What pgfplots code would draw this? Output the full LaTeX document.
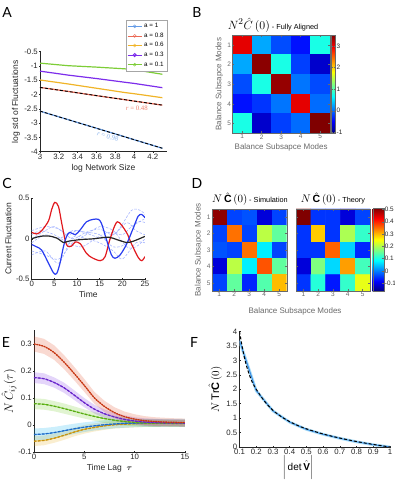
\documentclass[border=0pt]{standalone}
\usepackage{fontspec}
\setmainfont{Liberation Sans}
\newfontfamily\serif{Liberation Serif}
\newfontfamily\panelfont{Lato}
\usepackage{amsmath}
\usepackage{pgfplots}
\usepackage{pgfplotstable}
\pgfplotsset{compat=1.18}

\definecolor{axgray}{RGB}{38,38,38}
\definecolor{hgray}{RGB}{105,105,105}
% panel A
\definecolor{aA}{RGB}{100,155,230}
\definecolor{aB}{RGB}{235,105,85}
\definecolor{aC}{RGB}{240,180,40}
\definecolor{aD}{RGB}{125,45,235}
\definecolor{aE}{RGB}{125,205,55}
% panel C
\definecolor{cred}{RGB}{225,25,30}
\definecolor{cblue}{RGB}{40,60,240}
\definecolor{cdash}{RGB}{165,180,255}
% panel E
\definecolor{ered}{RGB}{225,65,25}
\definecolor{epur}{RGB}{120,45,230}
\definecolor{egrn}{RGB}{105,200,25}
\definecolor{eblu}{RGB}{35,125,230}
\definecolor{eorg}{RGB}{230,170,20}
% panel F
\definecolor{fblu}{RGB}{55,140,230}
\definecolor{fband}{RGB}{170,222,248}

\pgfplotsset{
  base/.style={scale only axis,
    axis line style={draw=axgray, line width=0.4pt},
    tick style={draw=axgray, line width=0.4pt},
    major tick length=2pt,
    tick align=inside,
    tick label style={font=\fontsize{7.8}{8}\selectfont, text=axgray, inner sep=1pt},
    /pgf/number format/assume math mode=true,
    label style={font=\fontsize{8.5}{9}\selectfont, text=axgray},
  },
  open/.style={base, axis lines=left, axis line style={-}},
  heat/.style={base, enlargelimits=false, xmin=0.5, xmax=5.5, ymin=0.5, ymax=5.5,
    y dir=reverse, xtick={1,...,5}, ytick={1,...,5}, colormap/jet, axis on top,
    axis line style={draw=hgray}, tick style={draw=hgray},
    tick label style={font=\fontsize{6.5}{7}\selectfont, text=hgray},
    label style={font=\fontsize{8}{9}\selectfont, text=hgray},
    colorbar shift/.style={},
  },
  cbar/.style={scale only axis, axis line style={draw=hgray}, tick style={draw=hgray},
    major tick length=1.5pt,
    tick label style={font=\fontsize{6.4}{7}\selectfont, text=axgray, inner sep=1pt},
    /pgf/number format/assume math mode=true},
  band/.style={draw=none, fill opacity=0.2},
}

% panel B, fully aligned
\pgfplotstableread{
x y c
1 1 3.05
2 1 0.27
3 1 -0.14
4 1 -0.41
5 1 0.77
1 2 0.27
2 2 3.45
3 2 0.77
4 2 -0.20
5 2 -0.71
1 3 -0.14
2 3 0.77
3 3 3.40
4 3 0.04
5 3 -0.15
1 4 -0.41
2 4 -0.25
3 4 0.04
4 4 3.05
5 4 0.00
1 5 0.77
2 5 -0.71
3 5 -0.20
4 5 0.00
5 5 3.50
}\matB

% panel D, simulation
\pgfplotstableread{
x y c
1 1 0.50
2 1 -0.04
3 1 -0.03
4 1 -0.11
5 1 -0.04
1 2 -0.04
2 2 0.35
3 2 -0.04
4 2 0.21
5 2 0.15
1 3 -0.03
2 3 -0.04
3 3 0.35
4 3 0.075
5 3 -0.04
1 4 -0.11
2 4 0.21
3 4 0.075
4 4 0.37
5 4 0.15
1 5 -0.04
2 5 0.15
3 5 -0.06
4 5 0.14
5 5 0.30
}\matDs

% panel D, theory
\pgfplotstableread{
x y c
1 1 0.51
2 1 -0.05
3 1 -0.05
4 1 -0.11
5 1 -0.04
1 2 -0.05
2 2 0.29
3 2 -0.05
4 2 0.20
5 2 0.12
1 3 -0.05
2 3 -0.05
3 3 0.36
4 3 0.055
5 3 -0.06
1 4 -0.11
2 4 0.17
3 4 0.06
4 4 0.32
5 4 0.13
1 5 -0.05
2 5 0.11
3 5 -0.07
4 5 0.12
5 5 0.24
}\matDt

% panel E: mean curves
\pgfplotstableread{
t r p g b o
0 0.300 0.175 0.078 -0.036 -0.061
1 0.291 0.171 0.076 -0.034 -0.058
2 0.268 0.157 0.069 -0.029 -0.050
3 0.232 0.137 0.060 -0.022 -0.039
4 0.190 0.110 0.050 -0.015 -0.027
5 0.146 0.082 0.040 -0.009 -0.017
6 0.100 0.058 0.031 -0.004 -0.010
7 0.068 0.041 0.023 0.000 -0.004
8 0.045 0.029 0.017 0.003 0.000
9 0.030 0.020 0.012 0.005 0.002
10 0.021 0.014 0.009 0.006 0.004
11 0.015 0.010 0.007 0.007 0.005
12 0.012 0.008 0.006 0.007 0.005
13 0.010 0.007 0.006 0.007 0.006
14 0.009 0.007 0.005 0.007 0.006
15 0.008 0.006 0.005 0.007 0.006
}\tabE

\begin{document}
\begin{tikzpicture}[x=1pt,y=1pt]
\useasboundingbox (0,0) rectangle (395,482);

% ---------------- A
\begin{axis}[open, at={(40pt,330.3pt)}, anchor=south west, width=127pt, height=100pt,
  xmin=3, xmax=4.35, ymin=-4, ymax=-0.5,
  xtick={3,3.2,3.4,3.6,3.8,4,4.2}, ytick={-4,-3.5,-3,-2.5,-2,-1.5,-1,-0.5},
  xlabel={log Network Size}, ylabel={log std of Fluctuations},
  legend style={at={(1,1.317)}, anchor=north east, font=\fontsize{6.3}{6.5}\selectfont,
    draw=gray!70, inner sep=1.2pt, row sep=-0.3pt, legend cell align=left},
  legend image code/.code={\draw[mark repeat=2,mark phase=2,#1] plot coordinates {(0pt,0pt)(7pt,0pt)(14pt,0pt)};},
  clip=false]
\addlegendimage{aA, mark=o, mark size=1.5pt}\addlegendentry{a = 1\hspace{7pt}}
\addlegendimage{aB, mark=o, mark size=1.5pt}\addlegendentry{a = 0.8}
\addlegendimage{aC, mark=o, mark size=1.5pt}\addlegendentry{a = 0.6}
\addlegendimage{aD, mark=o, mark size=1.5pt, line width=1pt}\addlegendentry{a = 0.3}
\addlegendimage{aE, mark=o, mark size=1.5pt}\addlegendentry{a = 0.1}
\addplot[aE, line width=1.2pt, forget plot] coordinates {(3,-0.90)(3.301,-0.99)(3.602,-1.04)(3.903,-1.10)(4,-1.13)(4.301,-1.29)};
\addplot[aD, line width=1.2pt, forget plot] coordinates {(3,-1.18)(3.301,-1.32)(3.602,-1.44)(3.903,-1.57)(4,-1.61)(4.301,-1.76)};
\addplot[aC, line width=1.2pt, forget plot] coordinates {(3,-1.49)(3.301,-1.63)(3.602,-1.78)(3.903,-1.93)(4,-1.97)(4.301,-2.11)};
\addplot[aB, line width=1.2pt, forget plot] coordinates {(3,-1.75)(3.301,-1.89)(3.602,-2.04)(3.903,-2.18)(4,-2.23)(4.301,-2.37)};
\addplot[black, line width=0.9pt, dash pattern=on 3pt off 2pt, forget plot] coordinates {(3,-1.75)(4.301,-2.37)};
\addplot[aA, line width=1.2pt, forget plot] coordinates {(3,-2.58)(3.301,-2.88)(3.602,-3.18)(3.903,-3.48)(4,-3.58)(4.301,-3.88)};
\addplot[black, line width=0.9pt, dash pattern=on 3pt off 2pt, forget plot] coordinates {(3,-2.58)(4.301,-3.88)};
\node[text=aB!85, font=\serif\fontsize{6.8}{7}\selectfont] at (axis cs:4.03,-2.48) {\textit{r} = 0.48};
\node[text=aA!75, rotate=-17, font=\serif\fontsize{6.8}{7}\selectfont] at (axis cs:3.72,-3.47) {\textit{r} = 0.98};
\end{axis}

% ---------------- B
\begin{axis}[heat, at={(232.3pt,348.7pt)}, anchor=south west, width=97.7pt, height=98.3pt,
  xlabel={Balance Subsapce Modes}, ylabel={Balance Subsapce Modes},
  point meta min=-1.05, point meta max=3.5,
  colorbar, colorbar style={cbar, at={(parent axis.north east)}, anchor=north west,
    xshift=1.5pt, width=4pt, height=98.3pt, ytick={-1,0,1,2,3}}]
\addplot[matrix plot*, mesh/cols=5, point meta=explicit] table[meta=c] {\matB};
\end{axis}
\node[text=black, font=\fontsize{12.5}{13}\selectfont] at (273,457) {$N^2\hat{C}\,(0)$\,{\fontsize{7.3}{8}\selectfont - Fully Aligned}};

% ---------------- C
\begin{axis}[open, at={(31.7pt,202.7pt)}, anchor=south west, width=113.3pt, height=81pt,
  xmin=0, xmax=25, ymin=-0.5, ymax=0.5, xtick={0,5,10,15,20,25}, ytick={-0.5,0,0.5},
  xlabel={Time}, ylabel={Current Fluctuation}]
\addplot[cdash, line width=0.6pt, dash pattern=on 2.5pt off 1.5pt, smooth] coordinates {(0,0.00)(3,0.10)(5,0.15)(8,0.05)(10,0.10)(13,0.05)(16,0.00)(19,0.10)(22,0.35)(24,0.35)(25,0.30)};
\addplot[cdash, line width=0.6pt, dash pattern=on 2.5pt off 1.5pt, smooth] coordinates {(0,-0.05)(3,0.05)(6,0.00)(9,0.10)(12,0.08)(15,0.05)(18,-0.10)(21,-0.05)(23,0.20)(25,0.20)};
\addplot[cdash, line width=0.6pt, dash pattern=on 2.5pt off 1.5pt, smooth] coordinates {(0,-0.15)(3,-0.20)(6,-0.25)(9,-0.05)(12,0.05)(15,0.15)(18,0.10)(21,-0.10)(23,-0.10)(25,0.00)};
\addplot[cdash, line width=0.6pt, dash pattern=on 2.5pt off 1.5pt, smooth] coordinates {(0,0.05)(2,0.10)(5,0.05)(8,-0.05)(11,-0.10)(14,0.00)(17,0.08)(20,0.05)(22,0.15)(25,0.25)};
\addplot[cdash, line width=0.6pt, dash pattern=on 2.5pt off 1.5pt, smooth] coordinates {(0,-0.20)(3,-0.15)(6,-0.30)(9,0.02)(12,0.00)(15,-0.05)(18,-0.15)(20,-0.25)(23,-0.05)(25,-0.05)};
\addplot[cdash, line width=0.6pt, dash pattern=on 2.5pt off 1.5pt, smooth] coordinates {(0,0.10)(3,0.15)(6,0.12)(9,0.00)(12,0.08)(15,0.12)(18,0.05)(21,0.20)(23,0.10)(25,0.05)};
\addplot[cred, line width=1.2pt, smooth] coordinates {(0,0.08)(1.1,0.06)(2.2,0.10)(3.7,0.22)(4.4,0.36)(5.1,0.45)(5.9,0.40)(6.6,0.20)(7.35,-0.01)(7.9,-0.09)(8.8,-0.09)(9.6,-0.04)(10.7,-0.06)(12.1,-0.18)(13.2,-0.23)(15.1,-0.27)(16.2,-0.22)(17.3,0.00)(18.9,0.21)(20.9,0.08)(22,-0.06)(23.5,-0.23)(24.3,-0.27)(25,-0.22)};
\addplot[cblue, line width=1.2pt, smooth] coordinates {(0,-0.07)(1.1,-0.10)(2.2,-0.14)(3.7,-0.30)(4.8,-0.42)(5.5,-0.43)(6.25,-0.30)(7,-0.10)(7.7,0.03)(8.45,0.08)(9.6,0.05)(10.7,0.11)(12.1,0.21)(13.6,0.24)(14.7,0.24)(15.4,0.19)(16.5,-0.01)(17.6,-0.20)(18.4,-0.24)(19.5,-0.20)(20.9,-0.07)(22.4,0.13)(23.5,0.28)(24.3,0.30)(25,0.26)};
\addplot[black!85, line width=1.2pt, smooth] coordinates {(0,0)(1.8,0.03)(3.7,0.035)(5.5,0.01)(7,-0.045)(8.1,-0.03)(10.7,-0.01)(13.6,0)(16.9,0.02)(18.8,-0.01)(20.9,-0.045)(22.4,-0.03)(25,0.03)};
\end{axis}

% ---------------- D
\begin{axis}[heat, at={(211.7pt,191pt)}, anchor=south west, width=75pt, height=82pt,
  ylabel={Balance Subsapce Modes}, point meta min=-0.17, point meta max=0.51]
\addplot[matrix plot*, mesh/cols=5, point meta=explicit] table[meta=c] {\matDs};
\end{axis}
\begin{axis}[heat, at={(296pt,191pt)}, anchor=south west, width=74pt, height=82pt,
  yticklabels={}, point meta min=-0.17, point meta max=0.51,
  colorbar, colorbar style={cbar, at={(parent axis.north east)}, anchor=north west,
    xshift=2.7pt, yshift=0.7pt, width=11pt, height=83.4pt,
    ytick={-0.1,0,0.1,0.2,0.3,0.4,0.5}}]
\addplot[matrix plot*, mesh/cols=5, point meta=explicit] table[meta=c] {\matDt};
\end{axis}
\node[text=black, font=\fontsize{10.5}{11}\selectfont] at (250,283) {$N\,\hat{\mathbf{C}}\,(0)$\,{\fontsize{7.3}{8}\selectfont - Simulation}};
\node[text=black, font=\fontsize{10.5}{11}\selectfont] at (333,283) {$N\,\hat{\mathbf{C}}\,(0)$\,{\fontsize{7.3}{8}\selectfont - Theory}};
\node[text=hgray, font=\fontsize{8}{9}\selectfont] at (295,171) {Balance Subsapce Modes};

% ---------------- E
\begin{axis}[open, at={(34pt,30.3pt)}, anchor=south west, width=151pt, height=121.2pt,
  xmin=0, xmax=15, ymin=-0.1, ymax=0.35, xtick={0,5,10,15}, ytick={-0.1,0,0.1,0.2,0.3},
  xlabel={Time Lag \ $\boldsymbol{\tau}$},
  ylabel={$N\,\hat{C}_{ij}(\tau)$}, ylabel style={font=\fontsize{11.5}{12}\selectfont, text=black, yshift=-2.5pt}]
% bands: upper edge forward, lower edge back
\addplot[band, fill=eorg] coordinates {(0,-0.043)(1,-0.040)(2,-0.033)(3,-0.022)(4,-0.011)(5,-0.001)(6,0.005)(7,0.011)(8,0.014)(9,0.016)(10,0.018)(11,0.018)(12,0.018)(13,0.019)(14,0.019)(15,0.019)
  (15,-0.007)(14,-0.007)(13,-0.007)(12,-0.008)(11,-0.008)(10,-0.010)(9,-0.012)(8,-0.014)(7,-0.019)(6,-0.025)(5,-0.033)(4,-0.043)(3,-0.056)(2,-0.067)(1,-0.076)(0,-0.079)} --cycle;
\addplot[band, fill=cyan] coordinates {(0,-0.014)(1,-0.012)(2,-0.008)(3,-0.002)(4,0.004)(5,0.009)(6,0.013)(7,0.017)(8,0.019)(9,0.021)(10,0.021)(11,0.022)(12,0.022)(13,0.022)(14,0.022)(15,0.022)
  (15,-0.008)(14,-0.008)(13,-0.008)(12,-0.008)(11,-0.008)(10,-0.009)(9,-0.011)(8,-0.013)(7,-0.017)(6,-0.021)(5,-0.027)(4,-0.034)(3,-0.042)(2,-0.050)(1,-0.056)(0,-0.058)} --cycle;
\addplot[band, fill=egrn] coordinates {(0,0.098)(1,0.096)(2,0.088)(3,0.079)(4,0.068)(5,0.057)(6,0.047)(7,0.039)(8,0.032)(9,0.027)(10,0.023)(11,0.021)(12,0.020)(13,0.019)(14,0.018)(15,0.018)
  (15,-0.008)(14,-0.008)(13,-0.007)(12,-0.008)(11,-0.007)(10,-0.005)(9,-0.003)(8,0.002)(7,0.007)(6,0.015)(5,0.023)(4,0.032)(3,0.041)(2,0.050)(1,0.056)(0,0.058)} --cycle;
\addplot[band, fill=epur] coordinates {(0,0.195)(1,0.191)(2,0.176)(3,0.156)(4,0.128)(5,0.099)(6,0.074)(7,0.057)(8,0.044)(9,0.035)(10,0.028)(11,0.024)(12,0.022)(13,0.020)(14,0.020)(15,0.019)
  (15,-0.007)(14,-0.006)(13,-0.006)(12,-0.006)(11,-0.004)(10,0.000)(9,0.005)(8,0.014)(7,0.025)(6,0.042)(5,0.065)(4,0.092)(3,0.118)(2,0.138)(1,0.151)(0,0.155)} --cycle;
\addplot[band, fill=ered] coordinates {(0,0.328)(1,0.319)(2,0.295)(3,0.258)(4,0.215)(5,0.170)(6,0.122)(7,0.089)(8,0.065)(9,0.049)(10,0.039)(11,0.032)(12,0.028)(13,0.026)(14,0.024)(15,0.023)
  (15,-0.007)(14,-0.006)(13,-0.006)(12,-0.004)(11,-0.002)(10,0.003)(9,0.011)(8,0.025)(7,0.047)(6,0.078)(5,0.122)(4,0.165)(3,0.206)(2,0.241)(1,0.263)(0,0.272)} --cycle;
\addplot[eorg, line width=0.7pt, smooth] table[x=t, y=o] {\tabE};
\addplot[eorg!85!black, line width=1.3pt, smooth, dash pattern=on 2.5pt off 1.5pt] table[x=t, y=o] {\tabE};
\addplot[eblu, line width=0.7pt, smooth] table[x=t, y=b] {\tabE};
\addplot[eblu!85!black, line width=1.3pt, smooth, dash pattern=on 2.5pt off 1.5pt] table[x=t, y=b] {\tabE};
\addplot[egrn, line width=0.7pt, smooth] table[x=t, y=g] {\tabE};
\addplot[egrn!85!black, line width=1.3pt, smooth, dash pattern=on 2.5pt off 1.5pt] table[x=t, y=g] {\tabE};
\addplot[epur, line width=0.7pt, smooth] table[x=t, y=p] {\tabE};
\addplot[epur!85!black, line width=1.3pt, smooth, dash pattern=on 2.5pt off 1.5pt] table[x=t, y=p] {\tabE};
\addplot[ered, line width=0.7pt, smooth] table[x=t, y=r] {\tabE};
\addplot[ered!85!black, line width=1.3pt, smooth, dash pattern=on 1.5pt off 1pt] table[x=t, y=r] {\tabE};
\end{axis}

% ---------------- F
\begin{axis}[open, at={(239.5pt,35pt)}, anchor=south west, width=150.5pt, height=115.5pt,
  xmin=0.1, xmax=1, ymin=0, ymax=4,
  xtick={0.1,0.2,0.3,0.4,0.5,0.6,0.7,0.8,0.9,1}, ytick={0,0.5,1,1.5,2,2.5,3,3.5,4},
  ylabel={$N\,\mathrm{Tr}\hat{\mathbf{C}}\,(0)$}, ylabel style={font=\fontsize{11}{12}\selectfont, text=black}]
\addplot[fband, line width=2.8pt] coordinates {(0.1,3.68)(0.2,1.95)(0.3,1.25)(0.4,0.86)(0.5,0.61)(0.6,0.44)(0.7,0.30)(0.8,0.18)(0.9,0.08)(1.0,0.0)};
\addplot[fblu, line width=0.9pt] coordinates {(0.1,3.68)(0.2,1.95)(0.3,1.25)(0.4,0.86)(0.5,0.61)(0.6,0.44)(0.7,0.30)(0.8,0.18)(0.9,0.08)(1.0,0.0)};
\addplot[black, line width=1pt, dash pattern=on 3pt off 2pt, smooth] coordinates {(0.1,4.0)(0.12,3.35)(0.14,2.85)(0.16,2.48)(0.18,2.2)(0.2,2.0)(0.25,1.58)(0.3,1.27)(0.35,1.05)(0.4,0.88)(0.45,0.74)(0.5,0.63)(0.6,0.45)(0.7,0.31)(0.8,0.19)(0.9,0.09)(1.0,0.0)};
\end{axis}
\node[text=black, font=\fontsize{10}{10}\selectfont] at (298,14.5) {$\bigg|\det\hat{\mathbf{V}}\bigg|$};

% panel letters
\node[font=\panelfont\fontsize{14}{14}\selectfont] at (7,470) {A};
\node[font=\panelfont\fontsize{14}{14}\selectfont] at (197,470) {B};
\node[font=\panelfont\fontsize{14}{14}\selectfont] at (7,299) {C};
\node[font=\panelfont\fontsize{14}{14}\selectfont] at (197,299) {D};
\node[font=\panelfont\fontsize{14}{14}\selectfont] at (6,140) {E};
\node[font=\panelfont\fontsize{14}{14}\selectfont] at (194,140) {F};
\end{tikzpicture}
\end{document}
